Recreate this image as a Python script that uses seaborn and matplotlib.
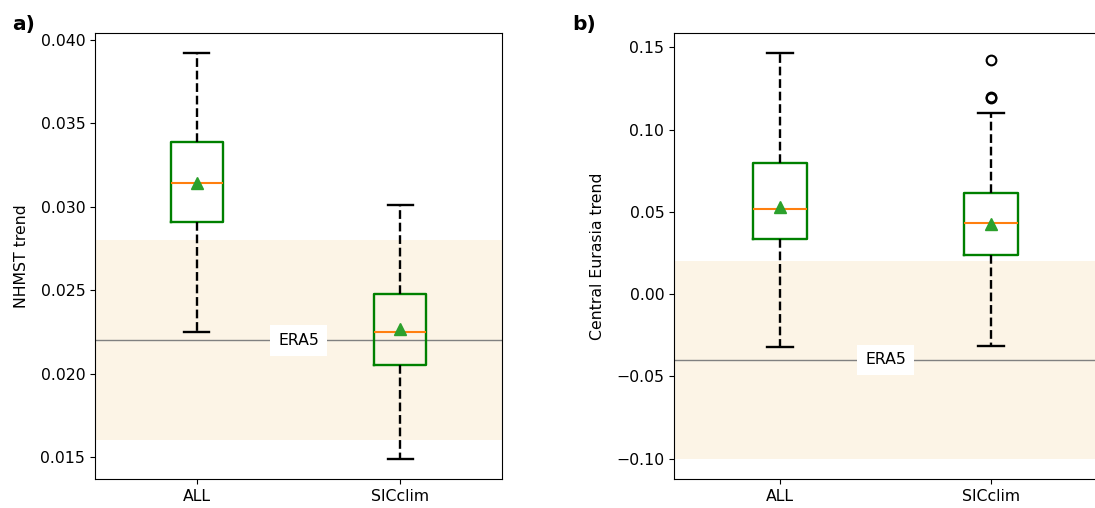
import pandas as pd
import matplotlib
matplotlib.use('Agg')
import matplotlib.pyplot as plt
import seaborn as sns

plt.rcParams['font.family'] = ['DejaVu Sans']
plt.rcParams['font.size'] = 11.3

# ensemble trends (per run)
runs = ['ALL', 'SICclim']

nhmst_all = [0.0225, 0.0270, 0.0291, 0.0305, 0.0314, 0.0325, 0.0339, 0.0365, 0.0392]
nhmst_sicclim = [0.0149, 0.0185, 0.0205, 0.0215, 0.0225, 0.0235, 0.0248, 0.0280, 0.0301]

ceu_all = [-0.0323, 0.0150, 0.0334, 0.0420, 0.0519, 0.0620, 0.0797, 0.0807, 0.1464]
ceu_sicclim = [-0.0313, -0.0300, -0.0290, -0.0266, 0.0240, 0.0250, 0.0270, 0.0300,
               0.0433, 0.0440, 0.0450, 0.0480, 0.0617, 0.1100, 0.1195, 0.1198, 0.1421]

# ERA5 value and uncertainty range
era5_nhmst = 0.022
era5_nhmst_range = (0.016, 0.028)
era5_ceu = -0.04
era5_ceu_range = (-0.10, 0.02)


def to_long(all_vals, sic_vals):
    df = pd.concat([pd.DataFrame({'run': runs[0], 'trend': all_vals}),
                    pd.DataFrame({'run': runs[1], 'trend': sic_vals})])
    return df.reset_index(drop=True)


def panel(ax, df, era5, era5_range, ylabel):
    ax.axhspan(era5_range[0], era5_range[1], color='#fcf4e6', lw=0, zorder=0)
    ax.axhline(era5, color='grey', lw=1, zorder=1)
    sns.boxplot(data=df, x='run', y='trend', order=runs, ax=ax, width=0.254,
                fill=False, color='green', whis=1.5, showmeans=True,
                boxprops=dict(color='green', linewidth=1.7),
                medianprops=dict(color='C1', linewidth=1.5),
                whiskerprops=dict(color='black', linestyle='--', linewidth=1.7),
                capprops=dict(color='black', linewidth=1.7),
                capwidths=0.125,
                flierprops=dict(marker='o', markerfacecolor='none', markeredgecolor='black',
                                markersize=7, markeredgewidth=1.5),
                meanprops=dict(marker='^', markerfacecolor='C2', markeredgecolor='C2',
                               markersize=8))
    ax.text(0.5, era5, 'ERA5', transform=ax.get_yaxis_transform(), ha='center', va='center',
            bbox=dict(facecolor='white', edgecolor='none', boxstyle='square,pad=0.5'), zorder=3)
    ax.set_xlabel('')
    ax.set_ylabel(ylabel, labelpad=8)


fig = plt.figure(figsize=(10.95, 5.08), dpi=100)
ax1 = fig.add_axes([95 / 1095, 29 / 508, 407 / 1095, 446 / 508])
ax2 = fig.add_axes([674 / 1095, 29 / 508, 423 / 1095, 446 / 508])

panel(ax1, to_long(nhmst_all, nhmst_sicclim), era5_nhmst, era5_nhmst_range, 'NHMST trend')
panel(ax2, to_long(ceu_all, ceu_sicclim), era5_ceu, era5_ceu_range, 'Central Eurasia trend')

fig.text(12 / 1095, 1 - 30 / 508, 'a)', fontsize=14.5, fontweight='bold')
fig.text(572 / 1095, 1 - 30 / 508, 'b)', fontsize=14.5, fontweight='bold')

fig.savefig('out.png', dpi=100)
